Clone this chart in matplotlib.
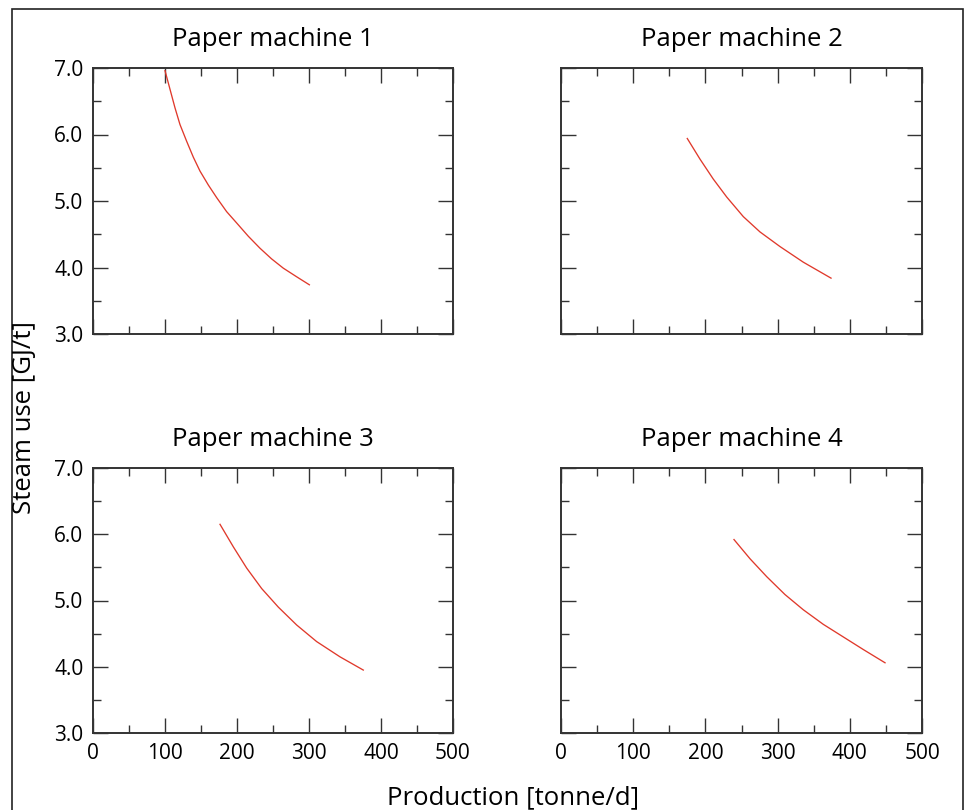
import numpy as np
import matplotlib
matplotlib.use('Agg')
import matplotlib.pyplot as plt
from matplotlib.patches import Rectangle
from matplotlib.ticker import MultipleLocator

plt.rcParams['font.family'] = ['Open Sans', 'DejaVu Sans']

titles = ['Paper machine 1', 'Paper machine 2', 'Paper machine 3', 'Paper machine 4']

# production [tonne/d] and steam use [GJ/t]
pm1_x = [100, 113.9, 120.8, 130, 139.3, 148.6, 160.2, 171.8, 185.6,
         199.5, 215.7, 231.9, 248, 264.3, 282.9, 300.5]
pm1_y = [6.96, 6.40, 6.15, 5.90, 5.66, 5.45, 5.24, 5.05, 4.84,
         4.67, 4.47, 4.29, 4.13, 3.99, 3.86, 3.74]

pm2_x = [174.9, 192.5, 210.9, 229.5, 252.5, 275.6, 303.3, 335.6, 374]
pm2_y = [5.94, 5.63, 5.33, 5.06, 4.765, 4.535, 4.315, 4.08, 3.84]

pm3_x = [176.4, 194.9, 213.4, 234.3, 257.4, 282.9, 310.6, 343, 375.4]
pm3_y = [6.15, 5.81, 5.49, 5.18, 4.90, 4.63, 4.38, 4.15, 3.95]

pm4_x = [239.6, 261.8, 284.9, 310.2, 335.6, 363.3, 391, 418.7, 448.8]
pm4_y = [5.92, 5.63, 5.36, 5.09, 4.86, 4.64, 4.45, 4.26, 4.06]

series = [(pm1_x, pm1_y), (pm2_x, pm2_y), (pm3_x, pm3_y), (pm4_x, pm4_y)]

W, H = 966, 810
fig = plt.figure(figsize=(W / 100, H / 100), dpi=100)

# axes boxes in pixels: left, top, right, bottom
boxes = [(93, 68, 453, 334), (561, 68, 922, 334),
         (93, 468, 453, 733), (561, 468, 922, 733)]

for i, (l, t, r, b) in enumerate(boxes):
    ax = fig.add_axes([l / W, 1 - b / H, (r - l) / W, (b - t) / H])
    x, y = series[i]
    ax.plot(x, y, color='#e0392b', lw=0.95, solid_joinstyle='round')
    ax.set_xlim(0, 500)
    ax.set_ylim(3, 7)
    ax.xaxis.set_major_locator(MultipleLocator(100))
    ax.xaxis.set_minor_locator(MultipleLocator(50))
    ax.yaxis.set_major_locator(MultipleLocator(1))
    ax.yaxis.set_minor_locator(MultipleLocator(0.5))
    ax.tick_params(which='both', direction='in', top=True, right=True,
                   color='#333333', width=1.0, labelsize=15, pad=7)
    ax.tick_params(which='major', length=11)
    ax.tick_params(which='minor', length=6)
    for s in ax.spines.values():
        s.set_color('#333333')
        s.set_linewidth(1.4)
    ax.set_title(titles[i], fontsize=18.5, pad=16)
    if i < 2:
        ax.tick_params(labelbottom=False)
    if i % 2 == 1:
        ax.tick_params(labelleft=False)
    ax.yaxis.set_major_formatter(plt.FormatStrFormatter('%.1f'))

fig.text(25 / W, 1 - 418 / H, 'Steam use [GJ/t]', rotation=90,
         ha='center', va='center', fontsize=18.5)
fig.text(513 / W, 1 - 798 / H, 'Production [tonne/d]',
         ha='center', va='center', fontsize=18.5)

# outer frame
fig.patches.append(Rectangle((11.5 / W, -0.02), (962.5 - 11.5) / W, 1.02 - 8.5 / H,
                             transform=fig.transFigure, fill=False,
                             edgecolor='#222222', lw=1.2))

fig.savefig('out.png', dpi=100)
